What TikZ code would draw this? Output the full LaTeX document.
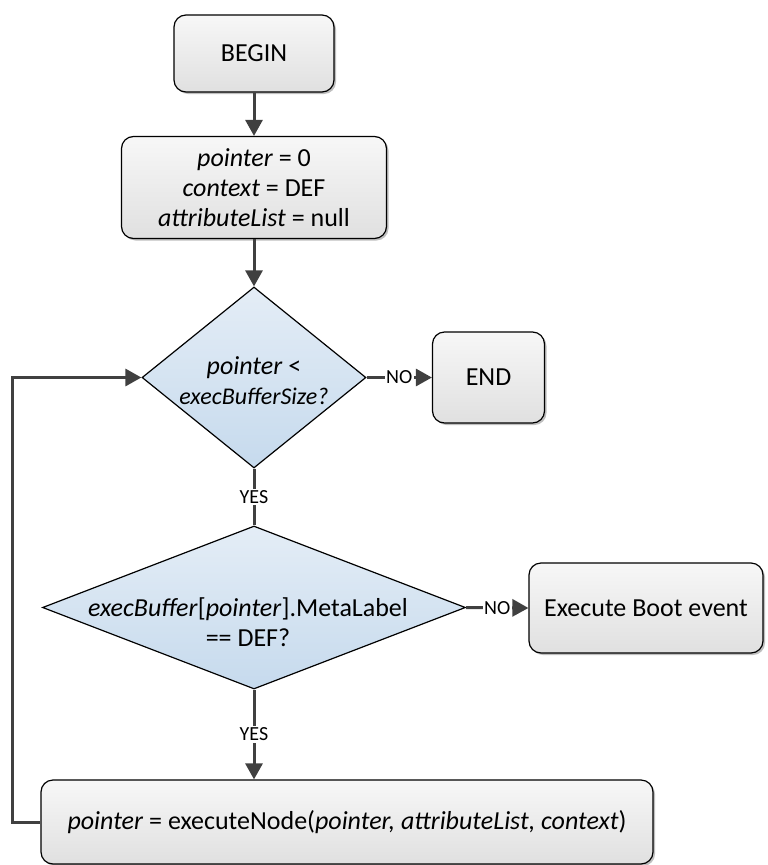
\documentclass[tikz,border=0pt]{standalone}
\usepackage{fontspec}
\setmainfont{Carlito}
\usetikzlibrary{arrows.meta,shapes.geometric,shadows}

\definecolor{boxtop}{HTML}{F7F7F7}
\definecolor{boxbot}{HTML}{E0E0E0}
\definecolor{dectop}{HTML}{E4EDF6}
\definecolor{decbot}{HTML}{C6DAED}
\definecolor{linegray}{HTML}{404040}

\newcommand\mainfs{\fontsize{26}{30}\selectfont}
\newcommand\smallfs{\fontsize{24}{30}\selectfont}
\newcommand\tagfs{\fontsize{20}{24}\selectfont}

\tikzset{
  box/.style={draw=black, line width=1.2pt, rounded corners=12pt,
    top color=boxtop, bottom color=boxbot,
    drop shadow={shadow xshift=2pt, shadow yshift=-2pt, opacity=0.25, fill=black},
    font=\mainfs, align=center, inner sep=0pt},
  decision/.style={draw=black, line width=1.2pt, diamond,
    top color=dectop, bottom color=decbot, inner sep=0pt},
  txt/.style={font=\mainfs, align=center, inner sep=0pt},
  plain/.style={draw=linegray, line width=3pt},
  flow/.style={plain, -{Triangle[length=16pt,width=17pt]}},
  tag/.style={fill=white, inner sep=1.5pt, font=\tagfs, text=black},
}

\begin{document}
\begin{tikzpicture}[x=1pt,y=-1pt]
\useasboundingbox (0,0) rectangle (768,865);

% process steps and decisions
\node[box, minimum width=160pt, minimum height=77pt] (begin) at (254,53.5) {BEGIN};
\node[box, minimum width=265pt, minimum height=102pt] (init) at (254,187.5)
  {\textit{pointer} = 0\\ \textit{context} = DEF\\ \textit{attributeList} = null};
\node[decision, minimum width=224pt, minimum height=181pt] (dec1) at (254,377.5) {};
\node[txt] (dec1txt) at (254,381) {\textit{pointer} <\\ {\smallfs\textit{execBufferSize?}}};
\node[box, minimum width=112pt, minimum height=91pt] (end) at (488.5,377.5) {END};
\node[decision, minimum width=423pt, minimum height=163pt] (dec2) at (254,607.5) {};
\node[txt] (dec2txt) at (248,622) {\textit{execBuffer}[\textit{pointer}].MetaLabel\\ == DEF?};
\node[box, minimum width=234pt, minimum height=90pt] (boot) at (646,608) {Execute Boot event};
\node[box, minimum width=612pt, minimum height=84pt] (exec) at (347,822)
  {\textit{pointer} = executeNode(\textit{pointer, attributeList, context})};

% loop rail on the left
\coordinate (rail) at (12,0);

% connectors
\draw[flow] (begin) -- (init);
\draw[flow] (init) -- (dec1);
\draw[flow] (dec1.east) -- node[tag] {NO} (end.west);
\draw[plain] (dec1.south) -- node[tag] {YES} (dec2.north);
\draw[flow] (dec2.east) -- node[tag] {NO} (boot.west);
\draw[flow] (dec2.south) -- node[tag] {YES} (dec2.south |- exec.north);
\draw[flow] (exec.west) -- (exec.west -| rail) |- (dec1.west);
\end{tikzpicture}
\end{document}
